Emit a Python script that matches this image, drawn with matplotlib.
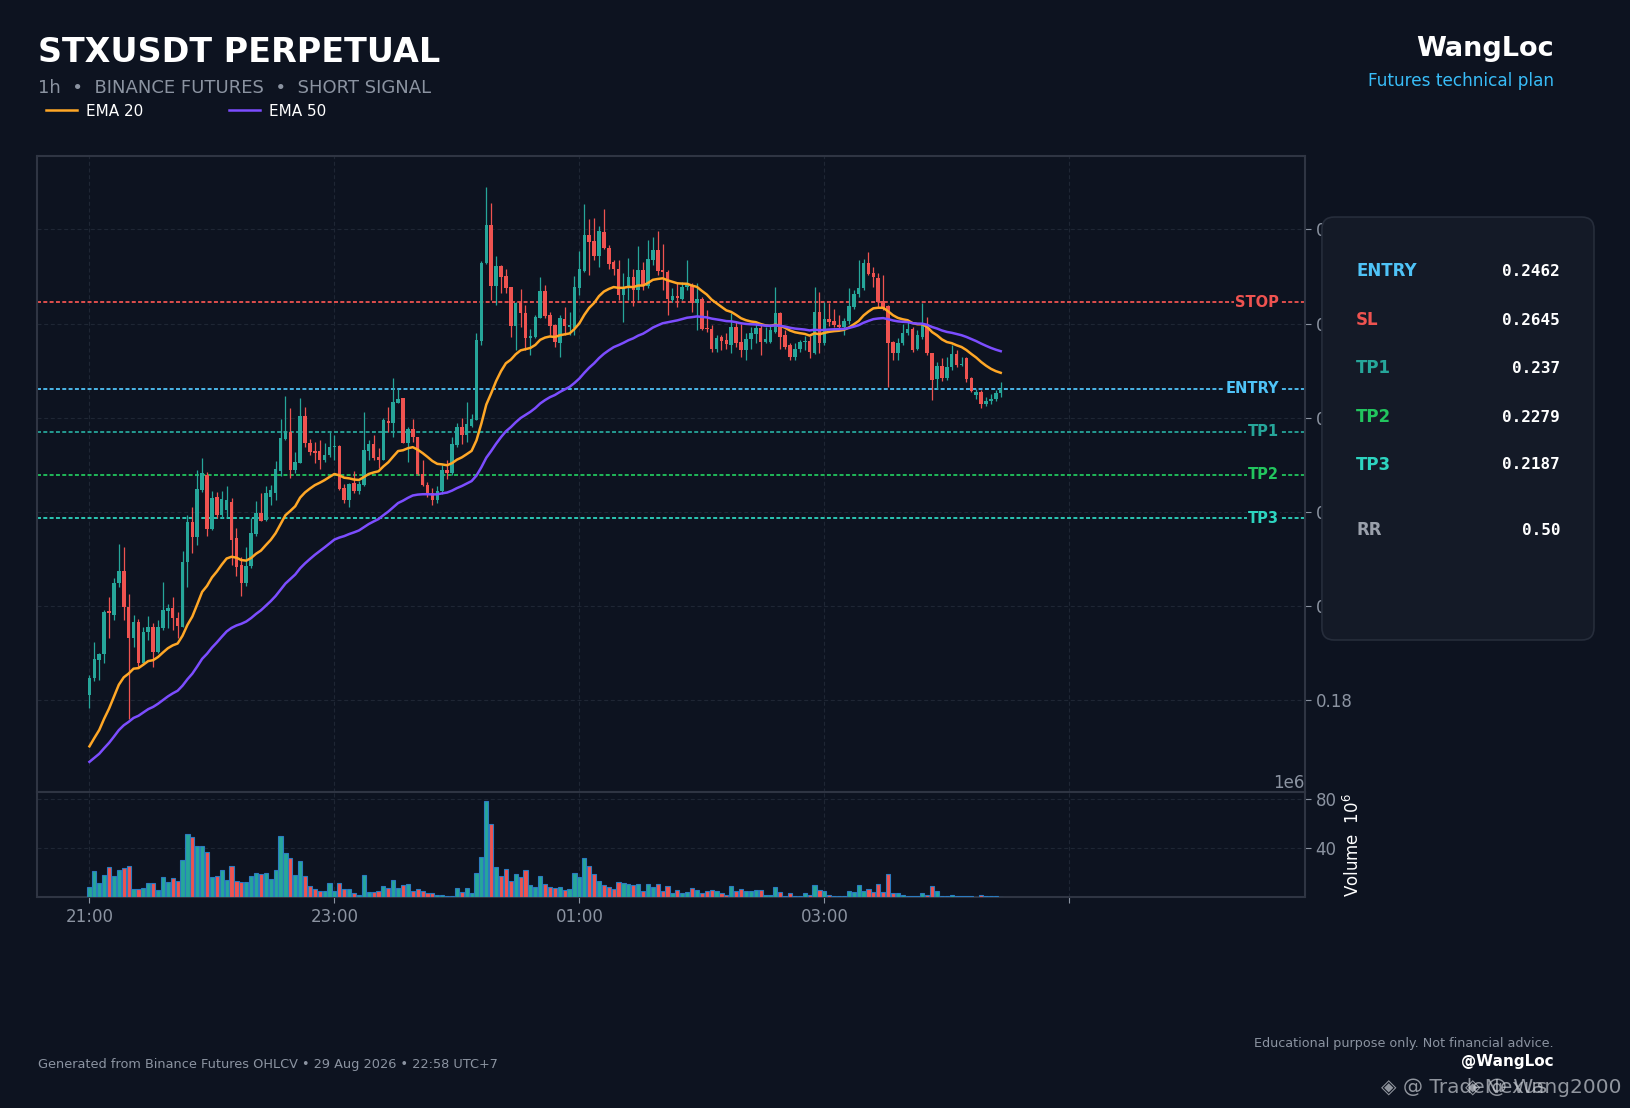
import matplotlib
matplotlib.use("Agg")
import matplotlib.pyplot as plt
from matplotlib.patches import FancyBboxPatch
from matplotlib.ticker import ScalarFormatter
import numpy as np

# ---------------- data ----------------
x_tick_pos = [0, 50, 100, 150, 200]
x_tick_labels = ["21:00", "23:00", "01:00", "03:00", ""]
price_ticks = [0.18, 0.20, 0.22, 0.24, 0.26, 0.28]
vol_ticks = [40e6, 80e6]

opens = [0.1811, 0.1847, 0.1886, 0.1898, 0.1989, 0.1981, 0.2048, 0.2075, 0.1998, 0.1933,
         0.1966, 0.1879, 0.1945, 0.1956, 0.1903, 0.1953, 0.1990, 0.1996, 0.1975, 0.1956,
         0.2093, 0.2178, 0.2147, 0.2247, 0.2278, 0.2164, 0.2231, 0.2193, 0.2203, 0.2222,
         0.2145, 0.2087, 0.2050, 0.2085, 0.2153, 0.2197, 0.2183, 0.2232, 0.2240, 0.2287,
         0.2355, 0.2369, 0.2289, 0.2304, 0.2404, 0.2347, 0.2329, 0.2329, 0.2310, 0.2320,
         0.2338, 0.2341, 0.2251, 0.2225, 0.2261, 0.2245, 0.2258, 0.2330, 0.2344, 0.2316,
         0.2311, 0.2393, 0.2389, 0.2432, 0.2441, 0.2347, 0.2376, 0.2359, 0.2281, 0.2258,
         0.2240, 0.2225, 0.2245, 0.2290, 0.2282, 0.2342, 0.2381, 0.2363, 0.2383, 0.2395,
         0.2564, 0.2728, 0.2809, 0.2680, 0.2722, 0.2701, 0.2678, 0.2595, 0.2646, 0.2622,
         0.2569, 0.2571, 0.2612, 0.2669, 0.2618, 0.2597, 0.2558, 0.2610, 0.2592, 0.2591,
         0.2675, 0.2711, 0.2788, 0.2775, 0.2743, 0.2795, 0.2761, 0.2730, 0.2717, 0.2660,
         0.2677, 0.2698, 0.2671, 0.2714, 0.2680, 0.2736, 0.2757, 0.2713, 0.2710, 0.2650,
         0.2659, 0.2653, 0.2677, 0.2680, 0.2643, 0.2653, 0.2591, 0.2588, 0.2547, 0.2571,
         0.2565, 0.2555, 0.2593, 0.2561, 0.2544, 0.2568, 0.2577, 0.2590, 0.2561, 0.2561,
         0.2583, 0.2622, 0.2575, 0.2554, 0.2530, 0.2547, 0.2561, 0.2562, 0.2537, 0.2625,
         0.2558, 0.2609, 0.2605, 0.2598, 0.2593, 0.2605, 0.2636, 0.2662, 0.2675, 0.2728,
         0.2708, 0.2697, 0.2649, 0.2637, 0.2560, 0.2537, 0.2558, 0.2581, 0.2588, 0.2547,
         0.2572, 0.2592, 0.2537, 0.2482, 0.2510, 0.2484, 0.2507, 0.2535, 0.2512, 0.2526,
         0.2484, 0.2448, 0.2455, 0.2430, 0.2436, 0.2440, 0.2452]

highs = [0.1854, 0.1923, 0.1901, 0.1992, 0.2020, 0.2059, 0.2131, 0.2125, 0.2025, 0.1981,
         0.1972, 0.1956, 0.1978, 0.1965, 0.1970, 0.2052, 0.2004, 0.2019, 0.1988, 0.2116,
         0.2193, 0.2211, 0.2289, 0.2314, 0.2284, 0.2244, 0.2243, 0.2244, 0.2254, 0.2230,
         0.2166, 0.2105, 0.2125, 0.2186, 0.2223, 0.2240, 0.2255, 0.2257, 0.2308, 0.2397,
         0.2446, 0.2420, 0.2328, 0.2441, 0.2423, 0.2355, 0.2348, 0.2353, 0.2347, 0.2370,
         0.2363, 0.2342, 0.2260, 0.2262, 0.2286, 0.2265, 0.2413, 0.2353, 0.2363, 0.2335,
         0.2399, 0.2422, 0.2484, 0.2462, 0.2443, 0.2381, 0.2397, 0.2360, 0.2310, 0.2264,
         0.2250, 0.2255, 0.2300, 0.2310, 0.2360, 0.2388, 0.2400, 0.2434, 0.2409, 0.2581,
         0.2733, 0.2891, 0.2857, 0.2743, 0.2724, 0.2717, 0.2678, 0.2646, 0.2673, 0.2639,
         0.2588, 0.2618, 0.2699, 0.2682, 0.2625, 0.2600, 0.2618, 0.2636, 0.2625, 0.2701,
         0.2754, 0.2855, 0.2823, 0.2825, 0.2808, 0.2843, 0.2767, 0.2735, 0.2735, 0.2707,
         0.2740, 0.2717, 0.2764, 0.2731, 0.2777, 0.2784, 0.2797, 0.2770, 0.2714, 0.2675,
         0.2689, 0.2689, 0.2735, 0.2686, 0.2686, 0.2657, 0.2629, 0.2597, 0.2576, 0.2576,
         0.2579, 0.2622, 0.2604, 0.2600, 0.2579, 0.2593, 0.2604, 0.2600, 0.2593, 0.2600,
         0.2678, 0.2625, 0.2586, 0.2558, 0.2558, 0.2565, 0.2573, 0.2573, 0.2678, 0.2668,
         0.2646, 0.2644, 0.2631, 0.2618, 0.2611, 0.2675, 0.2671, 0.2735, 0.2738, 0.2753,
         0.2721, 0.2707, 0.2703, 0.2640, 0.2564, 0.2569, 0.2600, 0.2608, 0.2593, 0.2586,
         0.2643, 0.2613, 0.2538, 0.2519, 0.2526, 0.2530, 0.2554, 0.2544, 0.2530, 0.2530,
         0.2487, 0.2462, 0.2460, 0.2445, 0.2450, 0.2460, 0.2475]

lows = [0.1783, 0.1840, 0.1843, 0.1879, 0.1932, 0.1970, 0.2041, 0.1970, 0.1760, 0.1914,
        0.1868, 0.1875, 0.1927, 0.1871, 0.1900, 0.1949, 0.1953, 0.1949, 0.1932, 0.1955,
        0.2041, 0.2112, 0.2130, 0.2243, 0.2149, 0.2162, 0.2186, 0.2186, 0.2190, 0.2087,
        0.2063, 0.2021, 0.2043, 0.2080, 0.2149, 0.2181, 0.2180, 0.2215, 0.2226, 0.2276,
        0.2353, 0.2273, 0.2283, 0.2303, 0.2337, 0.2321, 0.2303, 0.2292, 0.2307, 0.2317,
        0.2310, 0.2246, 0.2218, 0.2211, 0.2240, 0.2238, 0.2254, 0.2310, 0.2310, 0.2293,
        0.2310, 0.2370, 0.2360, 0.2431, 0.2346, 0.2305, 0.2349, 0.2278, 0.2255, 0.2232,
        0.2215, 0.2218, 0.2238, 0.2270, 0.2278, 0.2338, 0.2345, 0.2349, 0.2381, 0.2395,
        0.2554, 0.2726, 0.2650, 0.2639, 0.2665, 0.2664, 0.2572, 0.2544, 0.2593, 0.2544,
        0.2533, 0.2569, 0.2611, 0.2611, 0.2576, 0.2551, 0.2528, 0.2576, 0.2576, 0.2576,
        0.2661, 0.2710, 0.2704, 0.2735, 0.2721, 0.2758, 0.2717, 0.2703, 0.2650, 0.2604,
        0.2650, 0.2637, 0.2650, 0.2671, 0.2675, 0.2724, 0.2703, 0.2671, 0.2618, 0.2646,
        0.2636, 0.2650, 0.2671, 0.2625, 0.2586, 0.2586, 0.2583, 0.2540, 0.2540, 0.2544,
        0.2547, 0.2537, 0.2551, 0.2530, 0.2523, 0.2547, 0.2558, 0.2533, 0.2558, 0.2558,
        0.2579, 0.2547, 0.2547, 0.2522, 0.2522, 0.2540, 0.2544, 0.2526, 0.2535, 0.2537,
        0.2555, 0.2595, 0.2593, 0.2590, 0.2576, 0.2600, 0.2632, 0.2657, 0.2671, 0.2703,
        0.2678, 0.2636, 0.2629, 0.2466, 0.2523, 0.2523, 0.2555, 0.2576, 0.2540, 0.2544,
        0.2568, 0.2533, 0.2438, 0.2462, 0.2477, 0.2480, 0.2501, 0.2508, 0.2510, 0.2476,
        0.2455, 0.2440, 0.2420, 0.2425, 0.2430, 0.2435, 0.2445]

closes = [0.1847, 0.1888, 0.1898, 0.1988, 0.1986, 0.2048, 0.2075, 0.1997, 0.1933, 0.1966,
          0.1879, 0.1945, 0.1956, 0.1903, 0.1956, 0.1992, 0.1996, 0.1975, 0.1958, 0.2094,
          0.2178, 0.2147, 0.2249, 0.2282, 0.2164, 0.2230, 0.2193, 0.2227, 0.2225, 0.2140,
          0.2084, 0.2050, 0.2085, 0.2155, 0.2197, 0.2181, 0.2240, 0.2246, 0.2291, 0.2357,
          0.2372, 0.2289, 0.2306, 0.2404, 0.2347, 0.2327, 0.2326, 0.2310, 0.2321, 0.2338,
          0.2341, 0.2249, 0.2225, 0.2259, 0.2245, 0.2259, 0.2331, 0.2344, 0.2315, 0.2310,
          0.2395, 0.2389, 0.2433, 0.2440, 0.2347, 0.2376, 0.2359, 0.2281, 0.2257, 0.2239,
          0.2225, 0.2245, 0.2290, 0.2282, 0.2345, 0.2381, 0.2363, 0.2387, 0.2397, 0.2565,
          0.2728, 0.2809, 0.2680, 0.2722, 0.2700, 0.2676, 0.2595, 0.2644, 0.2622, 0.2569,
          0.2574, 0.2615, 0.2669, 0.2616, 0.2595, 0.2560, 0.2611, 0.2595, 0.2598, 0.2678,
          0.2716, 0.2788, 0.2774, 0.2743, 0.2796, 0.2761, 0.2726, 0.2716, 0.2660, 0.2677,
          0.2698, 0.2671, 0.2714, 0.2680, 0.2738, 0.2757, 0.2712, 0.2709, 0.2652, 0.2659,
          0.2655, 0.2678, 0.2682, 0.2643, 0.2653, 0.2589, 0.2588, 0.2547, 0.2570, 0.2564,
          0.2557, 0.2593, 0.2558, 0.2544, 0.2568, 0.2579, 0.2590, 0.2561, 0.2568, 0.2586,
          0.2622, 0.2572, 0.2551, 0.2530, 0.2547, 0.2561, 0.2564, 0.2540, 0.2625, 0.2558,
          0.2609, 0.2604, 0.2597, 0.2593, 0.2605, 0.2637, 0.2662, 0.2675, 0.2728, 0.2705,
          0.2698, 0.2645, 0.2632, 0.2558, 0.2537, 0.2558, 0.2581, 0.2588, 0.2544, 0.2576,
          0.2597, 0.2537, 0.2480, 0.2510, 0.2484, 0.2508, 0.2535, 0.2512, 0.2515, 0.2482,
          0.2457, 0.2455, 0.2430, 0.2436, 0.2440, 0.2452, 0.2462]

volumes_m = [8.4, 21.2, 11.4, 18.0, 24.5, 17.1, 22.0, 23.7, 25.3, 6.5,
             6.5, 7.3, 11.4, 11.4, 5.7, 16.3, 12.2, 15.5, 13.1, 30.2,
             51.4, 49.0, 41.6, 41.6, 36.7, 16.3, 17.1, 22.0, 13.9, 25.3,
             13.1, 12.2, 12.2, 17.1, 19.6, 18.8, 19.6, 14.7, 22.0, 49.8,
             35.9, 31.8, 18.0, 29.4, 17.1, 9.0, 6.5, 4.9, 4.9, 11.4,
             4.9, 11.4, 6.5, 6.5, 3.3, 2.4, 18.0, 4.1, 4.1, 4.9,
             9.0, 7.3, 13.9, 7.3, 9.8, 10.6, 4.9, 6.5, 4.9, 3.3,
             3.3, 2.4, 2.4, 0.8, 1.6, 7.3, 4.1, 7.3, 3.3, 19.6,
             32.7, 78.6, 59.6, 24.5, 17.1, 22.9, 13.1, 18.8, 16.3, 22.0,
             9.8, 8.2, 17.1, 10.6, 8.2, 8.0, 8.2, 5.7, 7.1, 19.6,
             16.3, 31.8, 25.3, 18.8, 13.1, 9.8, 8.7, 6.5, 12.2, 11.4,
             10.6, 9.8, 10.6, 5.4, 10.6, 8.2, 10.6, 5.4, 9.0, 3.3,
             5.7, 3.3, 4.1, 7.3, 5.7, 3.3, 4.9, 5.7, 4.9, 3.3,
             2.4, 9.0, 4.9, 6.5, 4.9, 4.9, 5.7, 5.7, 2.4, 2.4,
             8.2, 4.1, 0.8, 3.3, 1.6, 0.8, 3.3, 2.2, 9.8, 5.7,
             4.9, 2.4, 1.4, 1.4, 1.4, 4.9, 4.1, 9.8, 4.9, 6.5,
             4.1, 10.6, 4.1, 18.8, 3.3, 3.3, 2.4, 1.4, 1.4, 0.8,
             3.3, 2.4, 9.0, 4.9, 1.4, 1.4, 2.4, 0.8, 0.8, 1.4,
             0.8, 0.3, 2.4, 1.4, 0.8, 1.6, 0.3]

# EMA values at the first visible candle (warm-up happened earlier)
ema20_start = 0.1702
ema50_start = 0.1669

level_names = ["STOP", "ENTRY", "TP1", "TP2", "TP3"]
level_values = [0.2645, 0.2462, 0.2370, 0.2279, 0.2187]

panel_labels = ["ENTRY", "SL", "TP1", "TP2", "TP3", "RR"]
panel_values = ["0.2462", "0.2645", "0.237", "0.2279", "0.2187", "0.50"]

# ---------------- styling ----------------
BG = "#0d1320"
PANEL_BG = "#141a27"
PANEL_EDGE = "#262d3b"
GRID = "#1f2634"
SPINE = "#2f3543"
TICK = "#8b93a1"
GREEN = "#26a69a"
RED = "#ef5350"
ORANGE = "#ffa726"
PURPLE = "#7c4dff"
VOL_EDGE = "#2b7bc0"
level_colors = ["#ef5350", "#4fc3f7", "#26a69a", "#22c55e", "#2dd4bf"]
panel_colors = ["#4fc3f7", "#ef5350", "#26a69a", "#22c55e", "#2dd4bf", "#9aa0ab"]


def ema(values, span, first):
    alpha = 2.0 / (span + 1.0)
    out = [first]
    for v in values[1:]:
        out.append(out[-1] + alpha * (v - out[-1]))
    return np.array(out)


o = np.array(opens)
h = np.array(highs)
l = np.array(lows)
c = np.array(closes)
vol = np.array(volumes_m) * 1e6
x = np.arange(len(c))
cols = np.where(c >= o, GREEN, RED)
ema20 = ema(closes, 20, ema20_start)
ema50 = ema(closes, 50, ema50_start)

fig = plt.figure(figsize=(16.31, 11.08), dpi=100, facecolor=BG)
ax = fig.add_axes([0.0224, 0.2852, 0.7777, 0.5740])
axv = fig.add_axes([0.0224, 0.1900, 0.7777, 0.0952], sharex=ax)

for a in (ax, axv):
    a.set_facecolor(BG)
    for s in a.spines.values():
        s.set_color(SPINE)
        s.set_linewidth(1.5)
    a.grid(True, color=GRID, linestyle=(0, (3.6, 2.4)), linewidth=0.8)
    a.set_axisbelow(True)
    a.tick_params(colors=TICK, labelsize=12, length=4, width=0.8)

# candles
ax.vlines(x, l, h, colors=cols, linewidth=0.9, zorder=3)
ax.bar(x, np.maximum(np.abs(c - o), 0.00015), bottom=np.minimum(o, c), width=0.72,
       color=cols, linewidth=0, zorder=4)

ln20, = ax.plot(x, ema20, color=ORANGE, linewidth=1.8, zorder=5, label="EMA 20")
ln50, = ax.plot(x, ema50, color=PURPLE, linewidth=1.8, zorder=5, label="EMA 50")

for name, val, col in zip(level_names, level_values, level_colors):
    ax.axhline(val, color=col, linewidth=1.3, linestyle=(0, (2.2, 1.3)), zorder=2)
    ax.text(0.9795, val, name, transform=ax.get_yaxis_transform(), ha="right", va="center",
            color=col, fontsize=10.5, fontweight="bold", zorder=6,
            bbox=dict(facecolor=BG, edgecolor="none", pad=1.0))

ax.set_xlim(-10.8, 248.1)
ax.set_ylim(0.1605, 0.2956)
ax.yaxis.tick_right()
ax.set_yticks(price_ticks)
ax.tick_params(axis="x", length=0, labelbottom=False)

# volume
axv.bar(x, vol, width=0.85, color=cols, edgecolor=VOL_EDGE, linewidth=0.8, zorder=3)
axv.set_ylim(0, 85.7e6)
axv.yaxis.tick_right()
vfmt = ScalarFormatter()
vfmt.set_scientific(True)
vfmt.set_powerlimits((6, 6))
axv.yaxis.set_major_formatter(vfmt)
axv.set_yticks(vol_ticks)
axv.yaxis.get_offset_text().set_color(TICK)
axv.yaxis.get_offset_text().set_fontsize(12)
axv.yaxis.set_label_position("right")
axv.set_ylabel("Volume  $10^6$", color="white", fontsize=12, labelpad=5)
axv.set_xticks(x_tick_pos)
axv.set_xticklabels(x_tick_labels)

# legend
fig.legend(handles=[ln20, ln50], loc="center left", bbox_to_anchor=(0.0285, 0.8998),
           ncol=2, frameon=False, fontsize=11, labelcolor="white", handlelength=2.0,
           handletextpad=0.6, columnspacing=5.6, borderpad=0, borderaxespad=0)

# header
fig.text(0.0233, 0.9443, "STXUSDT PERPETUAL", fontsize=24, fontweight="bold",
         color="white", va="baseline")
fig.text(0.0233, 0.9164, "1h  \u2022  BINANCE FUTURES  \u2022  SHORT SIGNAL", fontsize=13,
         color=TICK, va="baseline")
fig.text(0.9528, 0.9494, "WangLoc", fontsize=19.5, fontweight="bold", color="white",
         ha="right", va="baseline")
fig.text(0.9528, 0.9228, "Futures technical plan", fontsize=12.2, color="#38bdf8",
         ha="right", va="baseline")

# info panel
panel = FancyBboxPatch((0.8105, 0.4224), 0.1668, 0.3817,
                       boxstyle="round,pad=0,rounding_size=0.0075",
                       mutation_aspect=1631 / 1108, transform=fig.transFigure,
                       facecolor=PANEL_BG, edgecolor=PANEL_EDGE, linewidth=1.2, zorder=10)
fig.add_artist(panel)
row_y = [0.7551, 0.7109, 0.6677, 0.6236, 0.5804, 0.5213]
for lab, val, col, yy in zip(panel_labels, panel_values, panel_colors, row_y):
    fig.text(0.8314, yy, lab, fontsize=12, fontweight="bold", color=col, va="center", zorder=11)
    fig.text(0.9565, yy, val, fontsize=11.5, fontweight="bold", family="DejaVu Sans Mono",
             color="white", ha="right", va="center", zorder=11)

# footer
fig.text(0.0233, 0.0361, "Generated from Binance Futures OHLCV \u2022 29 Aug 2026 \u2022 22:58 UTC+7",
         fontsize=9.3, color=TICK, va="baseline")
fig.text(0.9528, 0.0551, "Educational purpose only. Not financial advice.", fontsize=9.2,
         color=TICK, ha="right", va="baseline")
fig.text(0.9528, 0.0375, "@WangLoc", fontsize=11, fontweight="bold", color="white",
         ha="right", va="baseline")
fig.text(0.8470, 0.0135, "\u25c8 @ TradeNexus", fontsize=14.5, color="#c9cdd4", alpha=0.7,
         va="baseline")
fig.text(0.8985, 0.0135, "\u25c8 @ Wang2000", fontsize=14.5, color="#c9cdd4", alpha=0.7,
         va="baseline")

fig.savefig("out.png", dpi=100, facecolor=BG)
